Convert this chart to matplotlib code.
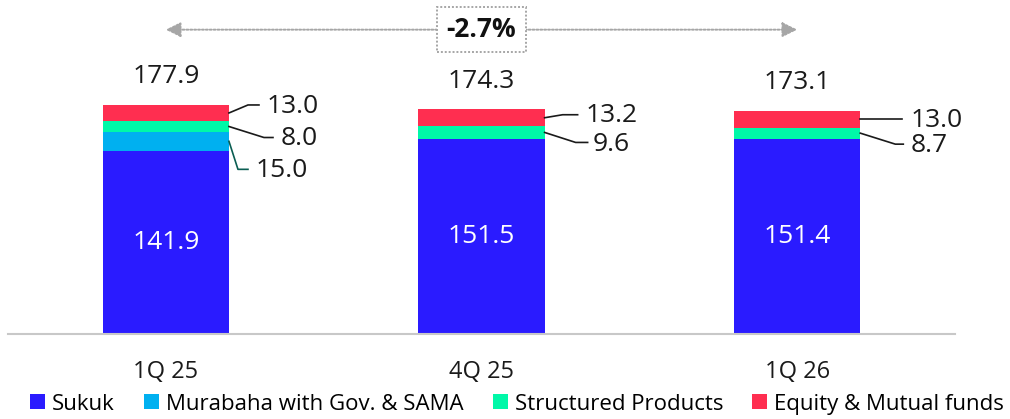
import matplotlib
matplotlib.use('Agg')
import matplotlib.pyplot as plt
from matplotlib.patches import Patch

plt.rcParams['font.family'] = ['Open Sans', 'DejaVu Sans']

quarters = ['1Q 25', '4Q 25', '1Q 26']
sukuk = [141.9, 151.5, 151.4]
murabaha = [15.0, 0.0, 0.0]
structured = [8.0, 9.6, 8.7]
equity = [13.0, 13.2, 13.0]
totals = [177.9, 174.3, 173.1]
change_label = '-2.7%'

series_names = ['Sukuk', 'Murabaha with Gov. & SAMA', 'Structured Products', 'Equity & Mutual funds']
colors = ['#2a1bff', '#00b0f0', '#00f8a8', '#ff2e50']

# leader line layout, pixel offsets from the bar's right edge at segment middle:
# (elbow dx, elbow dy, end dx, end dy, text dx, text dy, line colour)
leaders = {
    (0, 3): (19, 8, 30, 8, 38, 6, '#1a1a1a'),
    (0, 2): (35, -11, 44, -11, 52, -12, '#1a1a1a'),
    (0, 1): (9, -28, 19, -28, 27, -29, '#0b5e52'),
    (1, 3): (18, 3, 33, 3, 41, 2, '#1a1a1a'),
    (1, 2): (31, -10, 43, -10, 48, -12, '#1a1a1a'),
    (2, 3): (20, 0, 42, 0, 50, -1, '#1a1a1a'),
    (2, 2): (35, -11, 43, -11, 50, -12, '#1a1a1a'),
}

fig = plt.figure(figsize=(10.1, 4.19), dpi=100)
ax = fig.add_axes([8 / 1010, 85 / 419, 947 / 1010, 334 / 419])

x = list(range(len(quarters)))
width = 0.4
stack = [sukuk, murabaha, structured, equity]
bottoms = [0.0] * len(x)
seg_mid = []
for vals, c in zip(stack, colors):
    ax.bar(x, vals, width, bottom=bottoms, color=c, linewidth=0)
    seg_mid.append([b + v / 2 for b, v in zip(bottoms, vals)])
    bottoms = [b + v for b, v in zip(bottoms, vals)]

ax.set_xlim(-0.5, 2.5)
ax.set_ylim(0, 259)
for s in ['top', 'left', 'right']:
    ax.spines[s].set_visible(False)
ax.spines['bottom'].set_color('#c8c8c8')
ax.spines['bottom'].set_linewidth(1.5)
ax.set_yticks([])
ax.set_xticks(x)
ax.set_xticklabels(quarters, fontsize=17, color='#1a1a1a')
ax.tick_params(axis='x', length=0, pad=19)

# inside sukuk labels and totals
for i in x:
    ax.text(i, seg_mid[0][i], f'{sukuk[i]:.1f}', ha='center', va='center',
            color='white', fontsize=19)
    ax.annotate(f'{totals[i]:.1f}', (i, totals[i]), xytext=(0, 28),
                textcoords='offset pixels', ha='center', va='center',
                fontsize=19, color='#1a1a1a')

# leader lines and segment labels
for (i, k), (ex, ey, fx, fy, tx, ty, lc) in leaders.items():
    val = stack[k][i]
    ax0, ay0 = ax.transData.transform((i + width / 2, seg_mid[k][i]))
    ax.plot([ax0, ax0 + ex, ax0 + fx], [ay0, ay0 + ey, ay0 + fy],
            transform=None, color=lc, lw=1.2, clip_on=False)
    ax.text(ax0 + tx, ay0 + ty, f'{val:.1f}', transform=None,
            ha='left', va='center', fontsize=19, color='#1a1a1a')

# change arrow across the top
y_arrow = 236
ax.annotate('', xy=(x[0], y_arrow), xytext=(x[-1], y_arrow),
            arrowprops=dict(arrowstyle='<|-|>,head_length=0.9,head_width=0.45',
                            color='#a6a6a6', lw=1.4, linestyle=(0, (1, 1)),
                            shrinkA=0, shrinkB=0), annotation_clip=False)
ax.text((x[0] + x[-1]) / 2, y_arrow, change_label, ha='center', va='center',
        fontsize=19, fontweight='bold', color='#111111',
        bbox=dict(boxstyle='square,pad=0.35', facecolor='white',
                  edgecolor='#a6a6a6', linestyle=(0, (1, 1)), linewidth=1.4))

handles = [Patch(facecolor=c, edgecolor='none') for c in colors]
fig.legend(handles, series_names, loc='center', bbox_to_anchor=(0.512, 1 - 404 / 419),
           ncol=4, frameon=False, fontsize=16, handlelength=0.68, handleheight=0.68,
           handletextpad=0.32, columnspacing=1.3, borderpad=0, borderaxespad=0)

fig.savefig('out.png', dpi=100)
